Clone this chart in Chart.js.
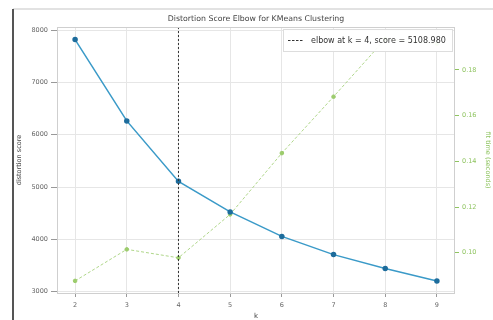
<!DOCTYPE html>
<html>
<head>
<meta charset="utf-8">
<script src="https://cdn.jsdelivr.net/npm/chart.js@4/dist/chart.umd.min.js"></script>
<style>
html,body{margin:0;padding:0;background:#fff;}
#wrap{width:493px;height:320px;position:relative;}
</style>
</head>
<body>
<div id="wrap"><canvas id="c" width="493" height="320"></canvas></div>
<script>
const kValues = [2, 3, 4, 5, 6, 7, 8, 9];
const distortionScores = [7820, 6265, 5109, 4525, 4057, 3709, 3444, 3205];
const fitTimes = [0.0877, 0.1015, 0.0978, 0.1168, 0.1436, 0.1683, 0.1935, 0.1915];
const elbowK = 4;
const elbowScore = 5108.980;
const leftTicks = [3000, 4000, 5000, 6000, 7000, 8000];
const rightTicks = [0.10, 0.12, 0.14, 0.16, 0.18];
const titleText = 'Distortion Score Elbow for KMeans Clustering';
const legendText = 'elbow at k = 4, score = 5108.980';

const FONT = '"DejaVu Sans", sans-serif';

const decor = {
  id: 'decor',
  beforeDraw(chart) {
    const ctx = chart.ctx;
    const a = chart.chartArea;
    ctx.save();
    ctx.fillStyle = '#fff';
    ctx.fillRect(0, 0, chart.width, chart.height);
    // frame of the screenshot
    ctx.strokeStyle = '#e2e2e2';
    ctx.lineWidth = 2;
    ctx.beginPath(); ctx.moveTo(13, 9); ctx.lineTo(493, 9); ctx.stroke();
    ctx.strokeStyle = '#555';
    ctx.lineWidth = 2;
    ctx.beginPath(); ctx.moveTo(13, 9); ctx.lineTo(13, 320); ctx.stroke();
    // title centred over the plot area
    ctx.fillStyle = '#444';
    ctx.font = '7.8px ' + FONT;
    ctx.textAlign = 'center';
    ctx.textBaseline = 'middle';
    ctx.fillText(titleText, (a.left + a.right) / 2, 19);
    ctx.restore();
  },
  afterDatasetsDraw(chart) {
    const ctx = chart.ctx;
    const a = chart.chartArea;
    const x = chart.scales.x.getPixelForValue(elbowK);
    ctx.save();
    // elbow line
    ctx.strokeStyle = '#333';
    ctx.lineWidth = 1;
    ctx.setLineDash([2, 2]);
    ctx.beginPath(); ctx.moveTo(x, a.top); ctx.lineTo(x, a.bottom); ctx.stroke();
    ctx.setLineDash([]);
    // spines
    ctx.strokeStyle = '#cfcfcf';
    ctx.lineWidth = 1;
    ctx.strokeRect(a.left + 0.5, a.top + 0.5, a.right - a.left - 1, a.bottom - a.top);
    // legend
    const lx = 283, ly = 29, lw = 169, lh = 22;
    ctx.fillStyle = 'rgba(255,255,255,0.93)';
    ctx.fillRect(lx, ly, lw, lh);
    ctx.strokeStyle = '#dddddd';
    ctx.strokeRect(lx + 0.5, ly + 0.5, lw, lh);
    ctx.strokeStyle = '#333';
    ctx.setLineDash([2.5, 1.5]);
    ctx.lineWidth = 1;
    ctx.beginPath(); ctx.moveTo(288, 40.5); ctx.lineTo(303, 40.5); ctx.stroke();
    ctx.setLineDash([]);
    ctx.fillStyle = '#333';
    ctx.font = '8px ' + FONT;
    ctx.textBaseline = 'middle';
    ctx.textAlign = 'left';
    ctx.fillText(legendText, 311, 40.5);
    ctx.restore();
  }
};

new Chart(document.getElementById('c'), {
  type: 'line',
  data: {
    datasets: [
      {
        label: 'distortion score',
        data: kValues.map((k, i) => ({x: k, y: distortionScores[i]})),
        yAxisID: 'y',
        borderColor: '#3a9ac8',
        backgroundColor: '#1d6c9c',
        pointBackgroundColor: '#1d6c9c',
        pointBorderColor: '#1d6c9c',
        borderWidth: 1.5,
        pointRadius: 2,
        tension: 0,
        order: 1
      },
      {
        label: 'fit time',
        data: kValues.map((k, i) => ({x: k, y: fitTimes[i]})),
        yAxisID: 'y1',
        borderColor: '#b0d78a',
        backgroundColor: '#9ccc6c',
        pointBackgroundColor: '#9ccc6c',
        pointBorderColor: '#9ccc6c',
        borderWidth: 1,
        borderDash: [3, 2],
        pointRadius: 1.8,
        tension: 0,
        order: 2
      }
    ]
  },
  options: {
    responsive: false,
    animation: false,
    layout: {padding: {top: 27}},
    plugins: {
      legend: {display: false},
      tooltip: {enabled: false},
      title: {display: false}
    },
    scales: {
      x: {
        type: 'linear',
        min: 1.65,
        max: 9.35,
        afterBuildTicks(s) { s.ticks = kValues.map(v => ({value: v})); },
        afterFit(s) { s.height = 27; },
        ticks: {color: '#666', font: {family: FONT, size: 6.5}, padding: 4, callback: v => String(v)},
        grid: {color: '#e6e6e6', tickColor: '#999', tickLength: 4, drawTicks: true},
        border: {display: false},
        title: {display: true, text: 'k', color: '#444', font: {family: FONT, size: 7}, padding: {top: 0, bottom: 0}}
      },
      y: {
        type: 'linear',
        position: 'left',
        min: 2975,
        max: 8060,
        afterBuildTicks(s) { s.ticks = leftTicks.map(v => ({value: v})); },
        afterFit(s) { s.width = 57; },
        ticks: {color: '#666', font: {family: FONT, size: 6.5}, padding: 3, callback: v => String(v)},
        grid: {color: '#e6e6e6', tickColor: '#999', tickLength: 6, drawTicks: true},
        border: {display: false},
        title: {display: true, text: 'distortion score', color: '#444', font: {family: FONT, size: 6.5}, padding: {top: 15, bottom: 0}}
      },
      y1: {
        type: 'linear',
        position: 'right',
        min: 0.0824,
        max: 0.1988,
        afterBuildTicks(s) { s.ticks = rightTicks.map(v => ({value: v})); },
        afterFit(s) { s.width = 38; },
        ticks: {color: '#8fc460', font: {family: FONT, size: 6.5}, padding: 3, callback: v => Number(v).toFixed(2)},
        grid: {drawOnChartArea: false, tickColor: '#8fc460', tickLength: 4, drawTicks: true},
        border: {display: false},
        title: {display: true, text: 'fit time (seconds)', color: '#8fc460', font: {family: FONT, size: 6.5}, padding: {top: 1, bottom: 0}}
      }
    }
  },
  plugins: [decor]
});
</script>
</body>
</html>
